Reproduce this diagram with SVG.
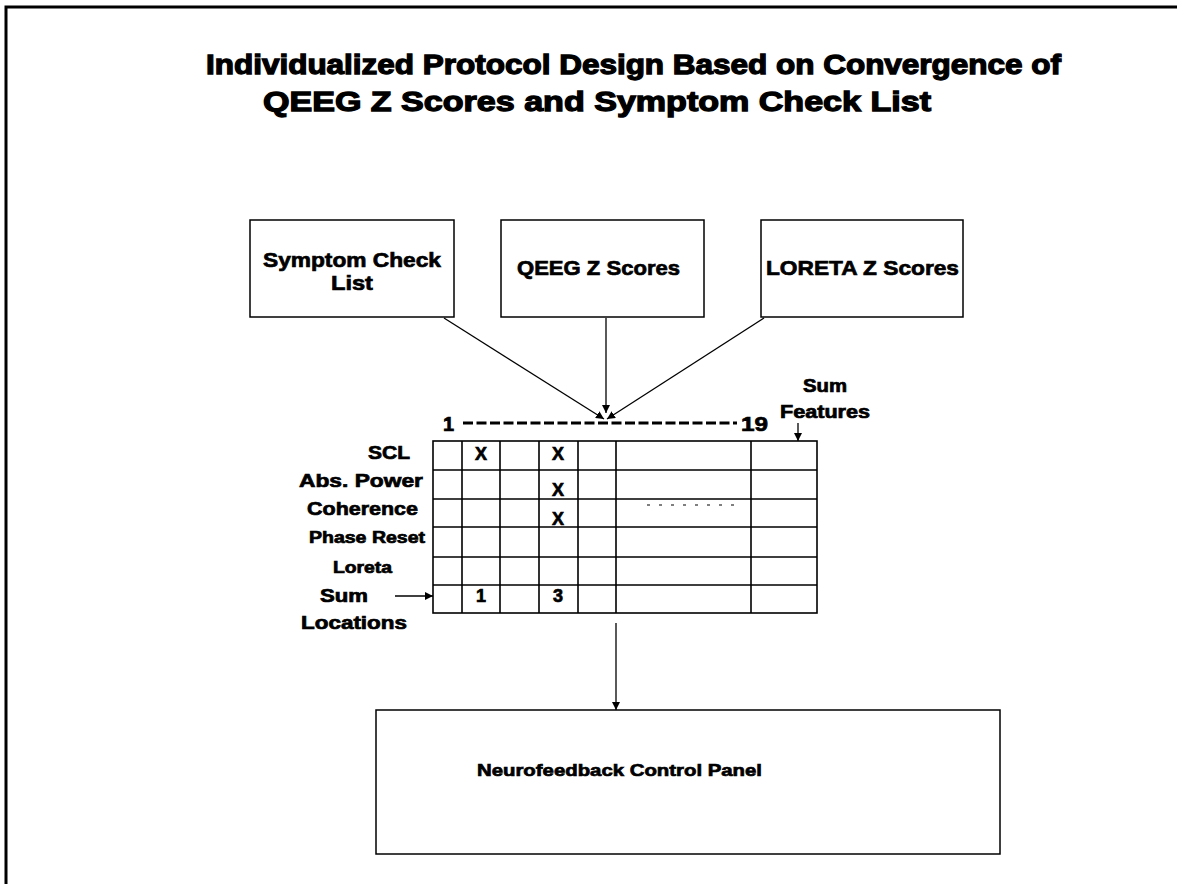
<svg xmlns="http://www.w3.org/2000/svg" width="1177" height="884" viewBox="0 0 1177 884">
<style>
text{font-family:"Liberation Sans",Arial,sans-serif;font-weight:bold;fill:#000;stroke:#000;stroke-width:0.7}
.t{stroke-width:1.3}
.box{fill:#fff;stroke:#000;stroke-width:1.5}
.ln{stroke:#000;stroke-width:1.3;fill:none}
.grid{stroke:#000;stroke-width:1.6;fill:none}
</style>
<defs>
<marker id="ah" viewBox="0 0 10 10" refX="10" refY="5" markerWidth="8" markerHeight="8" orient="auto" markerUnits="userSpaceOnUse">
<path d="M0,0 L10,5 L0,10 z" fill="#000"/>
</marker>
</defs>
<rect width="1177" height="884" fill="#fff"/>
<path d="M6,884 V7 H1177" fill="none" stroke="#000" stroke-width="3"/>
<g id="title">
<text class="t" x="206" y="74" font-size="28" textLength="855" lengthAdjust="spacingAndGlyphs">Individualized Protocol Design Based on Convergence of</text>
<text class="t" x="263" y="111" font-size="28" textLength="668" lengthAdjust="spacingAndGlyphs">QEEG Z Scores and Symptom Check List</text>
</g>
<g id="symptom">
<rect class="box" x="250" y="220" width="204" height="97"/>
<text x="263" y="267" font-size="21" textLength="178" lengthAdjust="spacingAndGlyphs">Symptom Check</text>
<text x="331" y="290" font-size="21" textLength="42" lengthAdjust="spacingAndGlyphs">List</text>
</g>
<g id="qeeg">
<rect class="box" x="501" y="220" width="203" height="97"/>
<text x="517" y="275" font-size="21" textLength="163" lengthAdjust="spacingAndGlyphs">QEEG Z Scores</text>
</g>
<g id="loreta">
<rect class="box" x="761" y="220" width="202" height="97"/>
<text x="766" y="275" font-size="21" textLength="193" lengthAdjust="spacingAndGlyphs">LORETA Z Scores</text>
</g>
<g id="matrix">
<text x="443" y="431" font-size="20">1</text>
<line x1="463" y1="423" x2="737" y2="423" stroke="#000" stroke-width="3" stroke-dasharray="10,3.5"/>
<text x="741" y="431" font-size="20" textLength="27" lengthAdjust="spacingAndGlyphs">19</text>
<text x="803" y="392" font-size="18" textLength="44" lengthAdjust="spacingAndGlyphs">Sum</text>
<text x="780" y="418" font-size="18" textLength="90" lengthAdjust="spacingAndGlyphs">Features</text>
<rect class="grid" x="433" y="441" width="384" height="172"/>
<path class="grid" d="M462,441V613M500,441V613M539,441V613M578,441V613M616,441V613M751,441V613M433,470H817M433,499H817M433,527H817M433,557H817M433,585H817"/>
<text x="368" y="459" font-size="19" textLength="42" lengthAdjust="spacingAndGlyphs">SCL</text>
<text x="299" y="487" font-size="19" textLength="124" lengthAdjust="spacingAndGlyphs">Abs. Power</text>
<text x="307" y="515" font-size="19" textLength="111" lengthAdjust="spacingAndGlyphs">Coherence</text>
<text x="309" y="543" font-size="16" textLength="116" lengthAdjust="spacingAndGlyphs">Phase Reset</text>
<text x="333" y="573" font-size="16" textLength="59" lengthAdjust="spacingAndGlyphs">Loreta</text>
<text x="320" y="602" font-size="18" textLength="48" lengthAdjust="spacingAndGlyphs">Sum</text>
<text x="301" y="629" font-size="18" textLength="106" lengthAdjust="spacingAndGlyphs">Locations</text>
<g font-size="18" text-anchor="middle">
<text x="481" y="460">X</text>
<text x="558" y="460">X</text>
<text x="558" y="496">X</text>
<text x="558" y="525">X</text>
<text x="481" y="602">1</text>
<text x="558" y="602">3</text>
</g>
<line x1="647" y1="505" x2="740" y2="505" stroke="#000" stroke-width="1.2" stroke-dasharray="3,9"/>
</g>
<g id="neurofeedback">
<rect class="box" x="376" y="710" width="624" height="144"/>
<text x="477" y="776" font-size="17" textLength="285" lengthAdjust="spacingAndGlyphs">Neurofeedback Control Panel</text>
</g>
<g id="connectors">
<line class="ln" x1="444" y1="318" x2="604" y2="419" marker-end="url(#ah)"/>
<line class="ln" x1="606" y1="318" x2="606" y2="413" marker-end="url(#ah)"/>
<line class="ln" x1="764" y1="318" x2="607" y2="419" marker-end="url(#ah)"/>
<line class="ln" x1="798" y1="423" x2="798" y2="441" marker-end="url(#ah)"/>
<line class="ln" x1="395" y1="596" x2="433" y2="596" marker-end="url(#ah)"/>
<line class="ln" x1="616" y1="623" x2="616" y2="710" marker-end="url(#ah)"/>
</g>
</svg>
